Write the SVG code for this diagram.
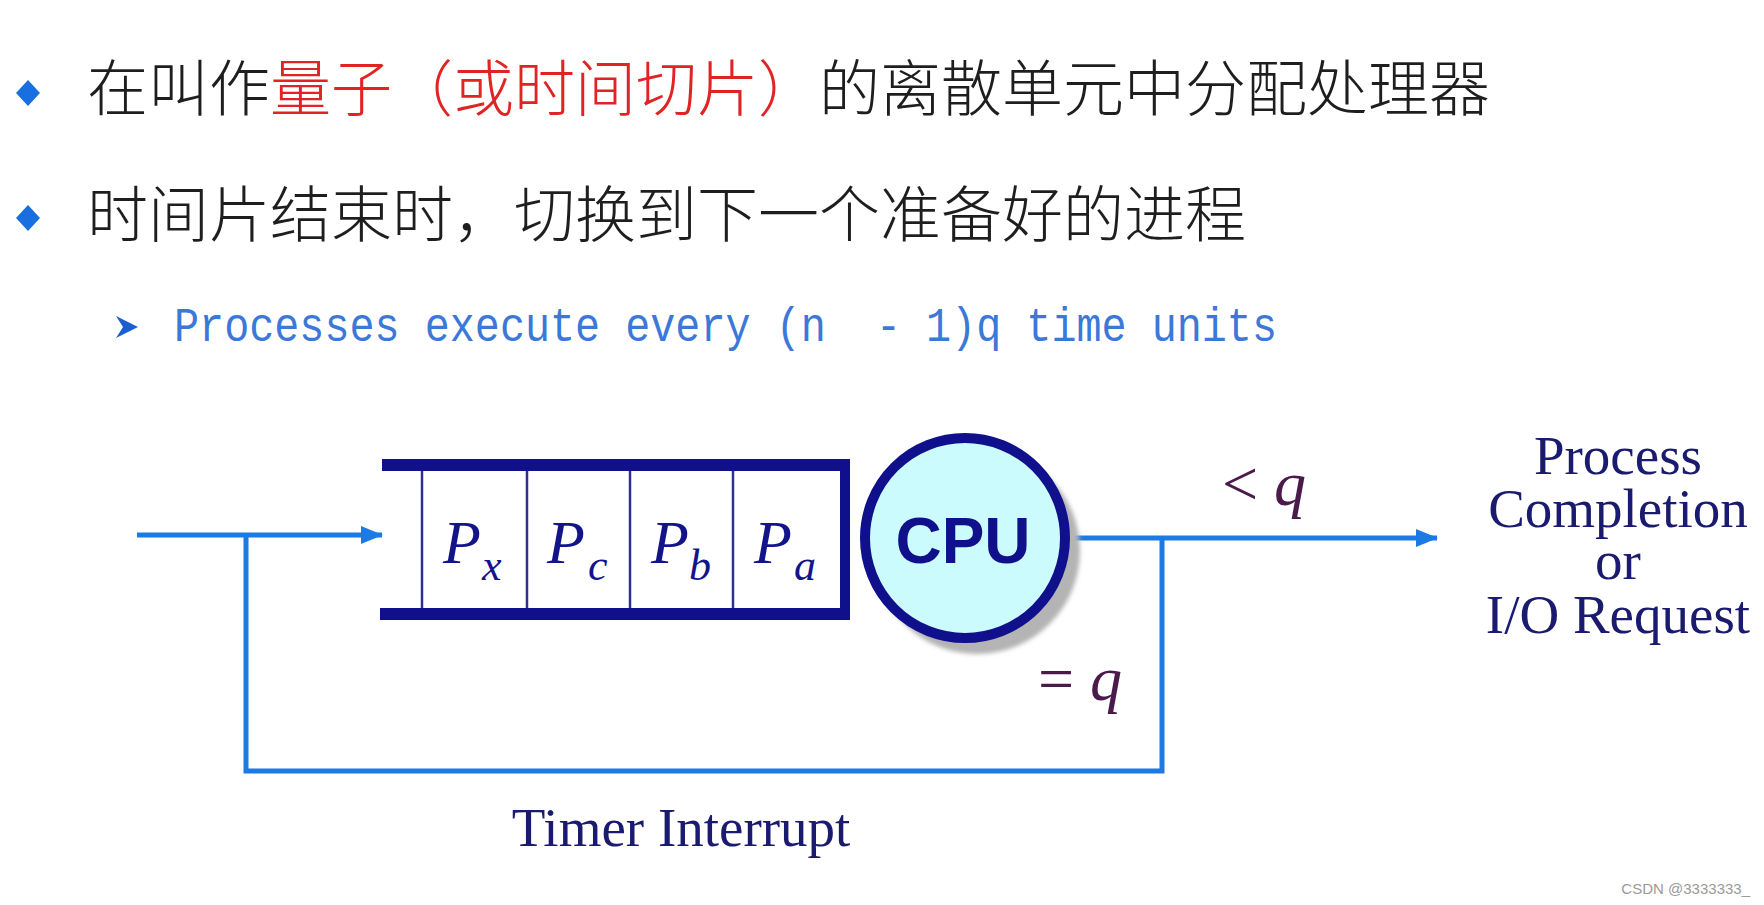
<svg xmlns="http://www.w3.org/2000/svg" width="1764" height="905" viewBox="0 0 1764 905">
<style>
.cn{font-family:"Noto Sans CJK SC","Noto Sans",sans-serif;font-size:61px;font-weight:300;fill:#1e1e1e}
.red{fill:#e02424}
.mono{font-family:"Liberation Mono",monospace;font-size:48px;fill:#3b78d8}
.serif{font-family:"Liberation Serif",serif;font-size:55px;fill:#1a1a6e}
.pl{font-family:"Liberation Serif",serif;font-style:italic;font-size:62px;fill:#14148a}
.sub{font-size:44px}
.qlab{font-family:"Liberation Serif",serif;font-size:64px;fill:#4a1a4a}
.conn{stroke:#1c7ae2;stroke-width:5;fill:none}
.bar{fill:#10108c}
.div{stroke:#30308a;stroke-width:2.5}
.bullet{fill:#1a6fe0}
</style>
<defs>
<marker id="ah" markerWidth="22" markerHeight="18" refX="21" refY="9" orient="auto" markerUnits="userSpaceOnUse" viewBox="0 0 22 18">
<path d="M0,0 L22,9 L0,18 Z" fill="#1c7ae2"/>
</marker>
<filter id="blur" x="-20%" y="-20%" width="140%" height="140%"><feGaussianBlur stdDeviation="2"/></filter>
</defs>
<rect width="1764" height="905" fill="#ffffff"/>

<g id="bullets">
<polygon class="bullet" points="28,80 40,93 28,106 16,93"/>
<polygon class="bullet" points="28,205 40,218 28,231 16,218"/>
<polygon points="116,316 138,327 116,338 123,327" fill="#1a5fd0"/>
</g>

<g id="line1">
<text class="cn" x="87" y="111">在叫作<tspan class="red">量子（或时间切片）</tspan>的离散单元中分配处理器</text>
</g>
<g id="line2">
<text class="cn" x="87" y="237">时间片结束时，切换到下一个准备好的进程</text>
</g>
<g id="line3">
<text class="mono" x="174" y="341" textLength="1103" lengthAdjust="spacingAndGlyphs" xml:space="preserve">Processes execute every (n  - 1)q time units</text>
</g>

<g id="connectors">
<line class="conn" x1="137" y1="535" x2="382" y2="535" marker-end="url(#ah)"/>
<polyline class="conn" points="246,535 246,771 1162,771 1162,538"/>
<line class="conn" x1="1068" y1="538" x2="1437" y2="538" marker-end="url(#ah)"/>
</g>

<g id="queue">
<rect class="bar" x="382" y="459" width="468" height="12"/>
<rect class="bar" x="380" y="608" width="470" height="12"/>
<rect class="bar" x="840" y="459" width="10" height="161"/>
<line class="div" x1="422" y1="471" x2="422" y2="608"/>
<line class="div" x1="527" y1="471" x2="527" y2="608"/>
<line class="div" x1="630" y1="471" x2="630" y2="608"/>
<line class="div" x1="733" y1="471" x2="733" y2="608"/>
<text class="pl" x="443" y="563">P<tspan class="sub" x="482" y="580">x</tspan></text>
<text class="pl" x="547" y="563">P<tspan class="sub" x="588" y="580">c</tspan></text>
<text class="pl" x="651" y="563">P<tspan class="sub" x="689" y="580">b</tspan></text>
<text class="pl" x="754" y="563">P<tspan class="sub" x="794" y="580">a</tspan></text>
</g>

<g id="cpu">
<circle cx="977" cy="551" r="103" fill="#b4b4b4" filter="url(#blur)"/>
<circle cx="965" cy="538" r="100" fill="#ccfbfd" stroke="#10108c" stroke-width="10"/>
<text x="963" y="563" text-anchor="middle" font-family="Liberation Sans, Arial, sans-serif" font-weight="bold" font-size="64" fill="#10108c">CPU</text>
</g>

<g id="label-lt-q">
<text class="qlab" x="1222" y="505">&lt; <tspan font-style="italic">q</tspan></text>
</g>
<g id="label-eq-q">
<text class="qlab" x="1038" y="700">= <tspan font-style="italic">q</tspan></text>
</g>

<g id="result">
<text class="serif" text-anchor="middle" x="1618" y="474">Process</text>
<text class="serif" text-anchor="middle" x="1618" y="527">Completion</text>
<text class="serif" text-anchor="middle" x="1618" y="579">or</text>
<text class="serif" text-anchor="middle" x="1618" y="633">I/O Request</text>
</g>

<g id="timer-label">
<text class="serif" text-anchor="middle" x="681" y="846">Timer Interrupt</text>
</g>

<text x="1750" y="894" text-anchor="end" font-family="Liberation Sans, Arial, sans-serif" font-size="15" fill="#9a9a9a">CSDN @3333333_</text>
</svg>
